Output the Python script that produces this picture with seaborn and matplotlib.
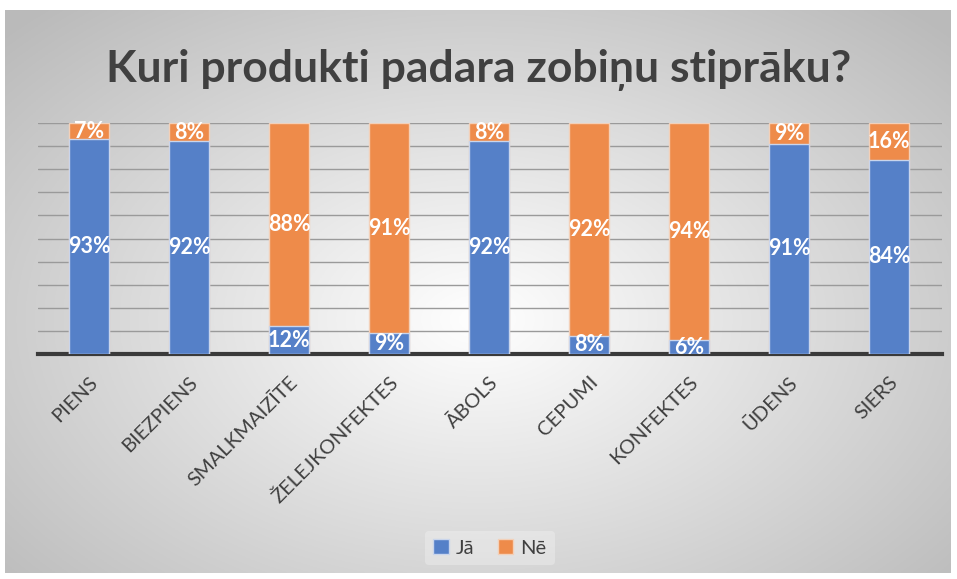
import numpy as np
import pandas as pd
import seaborn as sns
import matplotlib.pyplot as plt
from matplotlib.patches import Patch

categories = ['PIENS', 'BIEZPIENS', 'SMALKMAIZĪTE', 'ŽELEJKONFEKTES', 'ĀBOLS',
              'CEPUMI', 'KONFEKTES', 'ŪDENS', 'SIERS']
ja = [93, 92, 12, 9, 92, 8, 6, 91, 84]
ne = [7, 8, 88, 91, 8, 92, 94, 9, 16]

df = pd.DataFrame({'produkts': categories, 'Jā': ja, 'Nē': ne})
df['kopa'] = df['Jā'] + df['Nē']

blue = '#5580c8'
orange = '#ee8b4a'
txt = '#404040'

sns.set_theme(style='white')
plt.rcParams['font.family'] = ['Lato', 'DejaVu Sans']

fig = plt.figure(figsize=(9.57, 5.79), dpi=100)
fig.patch.set_facecolor('white')

# radial gray gradient behind the chart
bg = fig.add_axes([5 / 957, 6 / 579, 946 / 957, 563 / 579], zorder=-5)
xx, yy = np.meshgrid(np.linspace(-1, 1, 400), np.linspace(-1, 1, 300))
r = np.sqrt(((xx - 0.0) / 1.1) ** 2 + ((yy + 0.1) / 1.2) ** 2)
shade = 1.0 - 0.27 * np.clip(r, 0, 1.25) / 1.25
bg.imshow(np.dstack([shade] * 3), aspect='auto', extent=[0, 1, 0, 1], origin='lower')
bg.set_axis_off()

ax = fig.add_axes([38 / 957, 225 / 579, 904 / 957, 231 / 579])
ax.patch.set_alpha(0)

sns.barplot(data=df, x='produkts', y='kopa', color=orange, width=0.4,
            saturation=1, edgecolor='#f3d0b8', linewidth=1, ax=ax, zorder=3)
sns.barplot(data=df, x='produkts', y='Jā', color=blue, width=0.4,
            saturation=1, edgecolor='#c9d5ec', linewidth=1, ax=ax, zorder=4)

for i, (a, b) in enumerate(zip(ja, ne)):
    ax.text(i, a / 2, f'{a}%', ha='center', va='center', color='white',
            fontsize=15.5, fontweight='bold', zorder=6)
    ax.text(i, a + b / 2, f'{b}%', ha='center', va='center', color='white',
            fontsize=15.5, fontweight='bold', zorder=6)

ax.set_ylim(0, 100)
ax.set_xlim(-0.51, 8.53)
ax.set_yticks(range(0, 101, 10))
ax.yaxis.grid(True, color='#9a9a9a', linewidth=1)
ax.set_axisbelow(True)
ax.tick_params(axis='y', left=False, labelleft=False)
ax.tick_params(axis='x', bottom=False, pad=8)
for s in ['top', 'right', 'left']:
    ax.spines[s].set_visible(False)
ax.spines['bottom'].set_color('#3a3a3a')
ax.spines['bottom'].set_linewidth(3)
ax.set_xlabel('')
ax.set_ylabel('')
ax.set_xticks(range(len(categories)))
ax.set_xticklabels(categories, rotation=45, ha='right', rotation_mode='anchor',
                   fontsize=14.5, color=txt)

fig.text(0.5, 1 - 70 / 579, 'Kuri produkti padara zobiņu stiprāku?', ha='center',
         va='center', fontsize=32, fontweight='bold', color=txt)

handles = [Patch(facecolor=blue, edgecolor='#c9d5ec', label='Jā'),
           Patch(facecolor=orange, edgecolor='#f3d0b8', label='Nē')]
leg = fig.legend(handles=handles, loc='center', ncol=2,
                 bbox_to_anchor=(490 / 957, 1 - 548 / 579), frameon=True,
                 fontsize=14.5, handlelength=0.75, handleheight=0.75,
                 handletextpad=0.35, columnspacing=1.2)
leg.get_frame().set_facecolor('#f6f6f6')
leg.get_frame().set_alpha(0.35)
leg.get_frame().set_edgecolor('none')
for t in leg.get_texts():
    t.set_color(txt)

fig.savefig('out.png', dpi=100)
